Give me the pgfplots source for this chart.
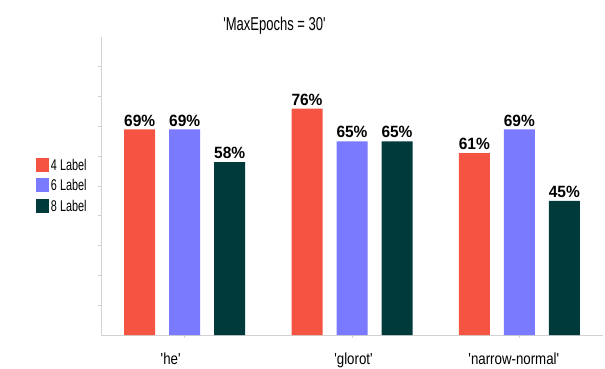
\documentclass[border=0pt]{standalone}
\usepackage{fontspec}
\usepackage{pgfplots}
\pgfplotsset{compat=1.18}
\newfontfamily\titlefont[FakeStretch=0.70]{Liberation Sans}
\newfontfamily\labfont[FakeStretch=0.83]{Liberation Sans}
\newfontfamily\legfont[FakeStretch=0.70]{Liberation Sans}
\newfontfamily\valfont[FakeStretch=0.95]{Liberation Sans}
\definecolor{cred}{RGB}{245,84,66}
\definecolor{cblue}{RGB}{122,122,255}
\definecolor{cdark}{RGB}{0,58,58}
\definecolor{axgray}{RGB}{210,210,210}
\begin{document}
\begin{tikzpicture}
\path[use as bounding box] (0,0) rectangle (605pt,368pt);
\begin{axis}[
  at={(101pt,33pt)}, anchor=south west,
  scale only axis, width=502pt, height=298pt,
  xmin=-0.5, xmax=2.5, ymin=0, ymax=100,
  axis x line*=bottom, axis y line*=left,
  axis line style={draw=axgray, line width=0.8pt},
  ybar, bar width=31pt,
  xtick={0,1,2},
  xticklabels={{\hspace*{-28pt}'he'},{\hspace*{3pt}'glorot'},{\hspace*{-11pt}'narrow-normal'}},
  ytick={10,20,...,90}, yticklabels={},
  tick align=outside, major tick length=3pt,
  tick style={draw=axgray, line width=0.8pt},
  xticklabel style={font=\labfont\fontsize{16}{16}\selectfont, inner sep=0pt, yshift=-15pt},
  nodes near coords={\pgfmathprintnumber[fixed,precision=0,assume math mode=true]{\pgfplotspointmeta}\%},
  every node near coord/.append style={font=\valfont\bfseries\fontsize{16.3}{16}\selectfont, inner sep=0pt, anchor=south, yshift=3pt, text=black},
  legend image code/.code={\fill[#1] (0pt,-5.5pt) rectangle (13pt,8.5pt);},
  legend cell align=left,
  legend style={at={(-0.1295,0.595)}, anchor=north west, draw=none, fill=none,
    inner sep=0pt, outer sep=0pt, row sep=5pt, column sep=2pt,
    font=\legfont\fontsize{15.5}{15.5}\selectfont,
    nodes={inner sep=0pt, text height=11pt, text depth=3pt}},
]
\addplot[fill=cred, draw=none, bar shift=-45pt] coordinates {(0,69) (1,76) (2,61)};
\addplot[fill=cblue, draw=none, bar shift=0pt] coordinates {(0,69) (1,65) (2,69)};
\addplot[fill=cdark, draw=none, bar shift=45pt] coordinates {(0,58) (1,65) (2,45)};
\legend{4 Label, 6 Label, 8 Label}
\end{axis}
\node[anchor=base, font=\titlefont\fontsize{18.6}{20}\selectfont, inner sep=0pt] at (274.5pt,338pt) {'MaxEpochs = 30'};
\end{tikzpicture}
\end{document}
